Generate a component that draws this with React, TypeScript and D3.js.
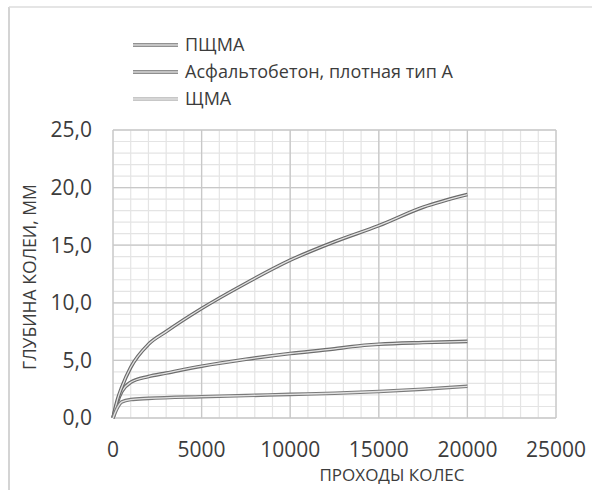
import React, { useEffect, useRef } from "react";
import * as d3 from "d3";

// wheel passes (x) and rut depth in mm (y)
const asphaltX = [0, 250, 500, 1000, 2000, 3000, 5000, 7500, 10000, 12500, 15000, 17500, 20000];
const asphaltY = [0, 1.6, 2.7, 4.4, 6.4, 7.5, 9.5, 11.7, 13.7, 15.3, 16.7, 18.3, 19.4];

const pshmaX = [0, 250, 500, 1000, 2000, 3000, 5000, 7500, 10000, 12500, 13500, 15000, 17500, 20000];
const pshmaY = [0, 1.4, 2.3, 3.1, 3.6, 3.9, 4.5, 5.1, 5.6, 6.0, 6.2, 6.4, 6.55, 6.65];

const shmaX = [0, 250, 500, 1000, 2000, 5000, 7500, 10000, 12500, 15000, 17500, 20000];
const shmaY = [0, 0.9, 1.4, 1.6, 1.7, 1.85, 1.95, 2.05, 2.15, 2.3, 2.5, 2.75];

const legendNames = ["ПЩМА", "Асфальтобетон, плотная тип А", "ЩМА"];
const xTicks = [0, 5000, 10000, 15000, 20000, 25000];
const yTicks = [0, 5, 10, 15, 20, 25];

const W = 592;
const H = 490;
const FONT = "'Open Sans', sans-serif";

export default function App() {
  const svgRef = useRef<SVGSVGElement>(null);

  useEffect(() => {
    const svg = d3.select(svgRef.current);
    svg.selectAll("*").remove();

    const left = 113, right = 556, top = 130, bottom = 418;
    const x = d3.scaleLinear().domain([0, 25000]).range([left, right]);
    const y = d3.scaleLinear().domain([0, 25]).range([bottom, top]);

    svg.append("rect").attr("width", W).attr("height", H).attr("fill", "#fff");

    // chart frame from the scan
    svg.append("line").attr("x1", 9).attr("x2", 9).attr("y1", 7).attr("y2", H)
      .attr("stroke", "#d4d4d4").attr("stroke-width", 2);
    svg.append("line").attr("x1", 9).attr("x2", W).attr("y1", 7).attr("y2", 7)
      .attr("stroke", "#dcdcdc").attr("stroke-width", 1.5);

    // minor grid
    const g = svg.append("g");
    g.selectAll(".mx").data(d3.range(0, 25001, 1000)).enter().append("line")
      .attr("x1", (d) => x(d)).attr("x2", (d) => x(d)).attr("y1", top).attr("y2", bottom)
      .attr("stroke", "#e4e4e4").attr("stroke-width", 1.2);
    g.selectAll(".my").data(d3.range(0, 25.01, 1)).enter().append("line")
      .attr("y1", (d) => y(d)).attr("y2", (d) => y(d)).attr("x1", left).attr("x2", right)
      .attr("stroke", "#e4e4e4").attr("stroke-width", 1.2);
    // major grid
    g.selectAll(".Mx").data(xTicks).enter().append("line")
      .attr("x1", (d) => x(d)).attr("x2", (d) => x(d)).attr("y1", top).attr("y2", bottom)
      .attr("stroke", "#c8c8c8").attr("stroke-width", 1.3);
    g.selectAll(".My").data(yTicks).enter().append("line")
      .attr("y1", (d) => y(d)).attr("y2", (d) => y(d)).attr("x1", left).attr("x2", right)
      .attr("stroke", "#c8c8c8").attr("stroke-width", 1.3);

    // tick labels
    svg.selectAll(".yt").data(yTicks).enter().append("text")
      .attr("x", 92).attr("y", (d) => y(d)).attr("dy", "0.35em")
      .attr("text-anchor", "end").attr("font-family", FONT).attr("font-size", 21)
      .attr("fill", "#3c3c3c").text((d) => d3.format(".1f")(d).replace(".", ","));
    svg.selectAll(".xt").data(xTicks).enter().append("text")
      .attr("x", (d) => x(d)).attr("y", 457)
      .attr("text-anchor", "middle").attr("font-family", FONT).attr("font-size", 21)
      .attr("fill", "#3c3c3c").text((d) => String(d));

    // axis titles
    svg.append("text").attr("x", 392).attr("y", 481).attr("text-anchor", "middle")
      .attr("font-family", FONT).attr("font-size", 17).attr("fill", "#3c3c3c")
      .text("ПРОХОДЫ КОЛЕС");
    svg.append("text").attr("transform", "translate(36,277) rotate(-90)")
      .attr("text-anchor", "middle").attr("font-family", FONT).attr("font-size", 17.6)
      .attr("fill", "#3c3c3c").text("ГЛУБИНА КОЛЕИ, ММ");

    // series (scanned lines look like a hollow double stroke)
    const series = [
      { xs: pshmaX, ys: pshmaY, outer: "#6e6e6e" },
      { xs: asphaltX, ys: asphaltY, outer: "#6a6a6a" },
      { xs: shmaX, ys: shmaY, outer: "#7a7a7a" },
    ];
    const line = d3.line<[number, number]>()
      .x((d) => x(d[0])).y((d) => y(d[1])).curve(d3.curveMonotoneX);
    series.forEach((s) => {
      const pts = s.xs.map((v, i) => [v, s.ys[i]] as [number, number]);
      svg.append("path").attr("d", line(pts)).attr("fill", "none")
        .attr("stroke", s.outer).attr("stroke-width", 3.6);
      svg.append("path").attr("d", line(pts)).attr("fill", "none")
        .attr("stroke", "#e2e2e2").attr("stroke-width", 1.3);
    });

    // legend
    const legendColors = ["#6e6e6e", "#6a6a6a", "#b4b4b4"];
    legendNames.forEach((name, i) => {
      const ly = 45 + i * 27;
      svg.append("line").attr("x1", 133).attr("x2", 178).attr("y1", ly).attr("y2", ly)
        .attr("stroke", legendColors[i]).attr("stroke-width", 3.6);
      svg.append("line").attr("x1", 133).attr("x2", 178).attr("y1", ly).attr("y2", ly)
        .attr("stroke", "#e2e2e2").attr("stroke-width", 1.3);
      svg.append("text").attr("x", 185).attr("y", ly).attr("dy", "0.35em")
        .attr("font-family", FONT).attr("font-size", 18).attr("fill", "#3c3c3c").text(name);
    });
  }, []);

  return (
    <div style={{ position: "absolute", left: 0, top: 0 }}>
      <svg ref={svgRef} width={W} height={H} style={{ display: "block" }}></svg>
    </div>
  );
}
